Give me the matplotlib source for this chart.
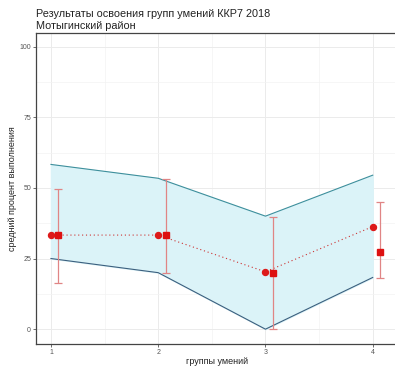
import matplotlib.pyplot as plt
import numpy as np

plt.rcParams['font.family'] = ['Liberation Sans', 'DejaVu Sans']

# groups of skills
groups = [1, 2, 3, 4]
tick_labels = ["1", "2", "3", "4"]

# district band (min / max)
band_low = [25.0, 20.0, 0.0, 18.3]
band_high = [58.3, 53.4, 40.0, 54.5]

# district mean (circles)
district_mean = [33.3, 33.3, 20.3, 36.3]

# school mean + range (squares with error bars)
school_mean = [33.3, 33.3, 20.0, 27.3]
school_low = [16.5, 19.9, 0.0, 18.1]
school_high = [49.7, 53.3, 39.7, 45.1]

dodge = 0.07

fig = plt.figure(figsize=(3.95, 3.67), dpi=100)
ax = fig.add_axes([0.091, 0.063, 0.915, 0.847])

x = np.array(groups, dtype=float)
ax.fill_between(x, band_low, band_high, color="#dbf3f8", zorder=1)
ax.plot(x, band_high, color="#3e8f9c", lw=0.8, zorder=2)
ax.plot(x, band_low, color="#3b5f7e", lw=0.8, zorder=2)

ax.plot(x, district_mean, color="#cc3333", lw=0.8, ls=(0, (1, 2.5)), zorder=3)
ax.plot(x, district_mean, "o", color="#dd1a1a", ms=4.3, zorder=5)

xs = x + dodge
yerr = [np.array(school_mean) - np.array(school_low),
        np.array(school_high) - np.array(school_mean)]
ax.errorbar(xs, school_mean, yerr=yerr, fmt="none", ecolor="#e08585",
            elinewidth=0.9, capsize=3, capthick=0.9, zorder=4)
ax.plot(xs, school_mean, "s", color="#dd1111", ms=4.3, zorder=6)

ax.set_xlim(0.86, 4.23)
ax.set_ylim(-5.2, 104.8)
ax.set_xticks(groups)
ax.set_xticklabels(tick_labels)
ax.set_yticks([0, 25, 50, 75, 100])
ax.set_xticks([1.5, 2.5, 3.5], minor=True)
ax.set_yticks([12.5, 37.5, 62.5, 87.5], minor=True)
ax.tick_params(which="major", labelsize=5, colors="#555555", length=2, width=0.6, pad=1.5)
ax.tick_params(which="minor", length=0)
ax.grid(True, which="major", color="#ebebeb", lw=0.7, zorder=0)
ax.grid(True, which="minor", color="#f3f3f3", lw=0.5, zorder=0)
ax.set_axisbelow(True)
for s in ax.spines.values():
    s.set_color("#444444")
    s.set_linewidth(0.9)

ax.set_xlabel("группы умений", fontsize=6.5, color="#222222", labelpad=1)
ax.set_ylabel("средний процент выполнения", fontsize=6.5, color="#222222", labelpad=1.5)

fig.text(0.091, 0.953, "Результаты освоения групп умений ККР7 2018",
         fontsize=7.8, color="#222222", va="baseline")
fig.text(0.091, 0.92, "Мотыгинский район", fontsize=7.8, color="#222222", va="baseline")

fig.savefig("out.png", dpi=100)
